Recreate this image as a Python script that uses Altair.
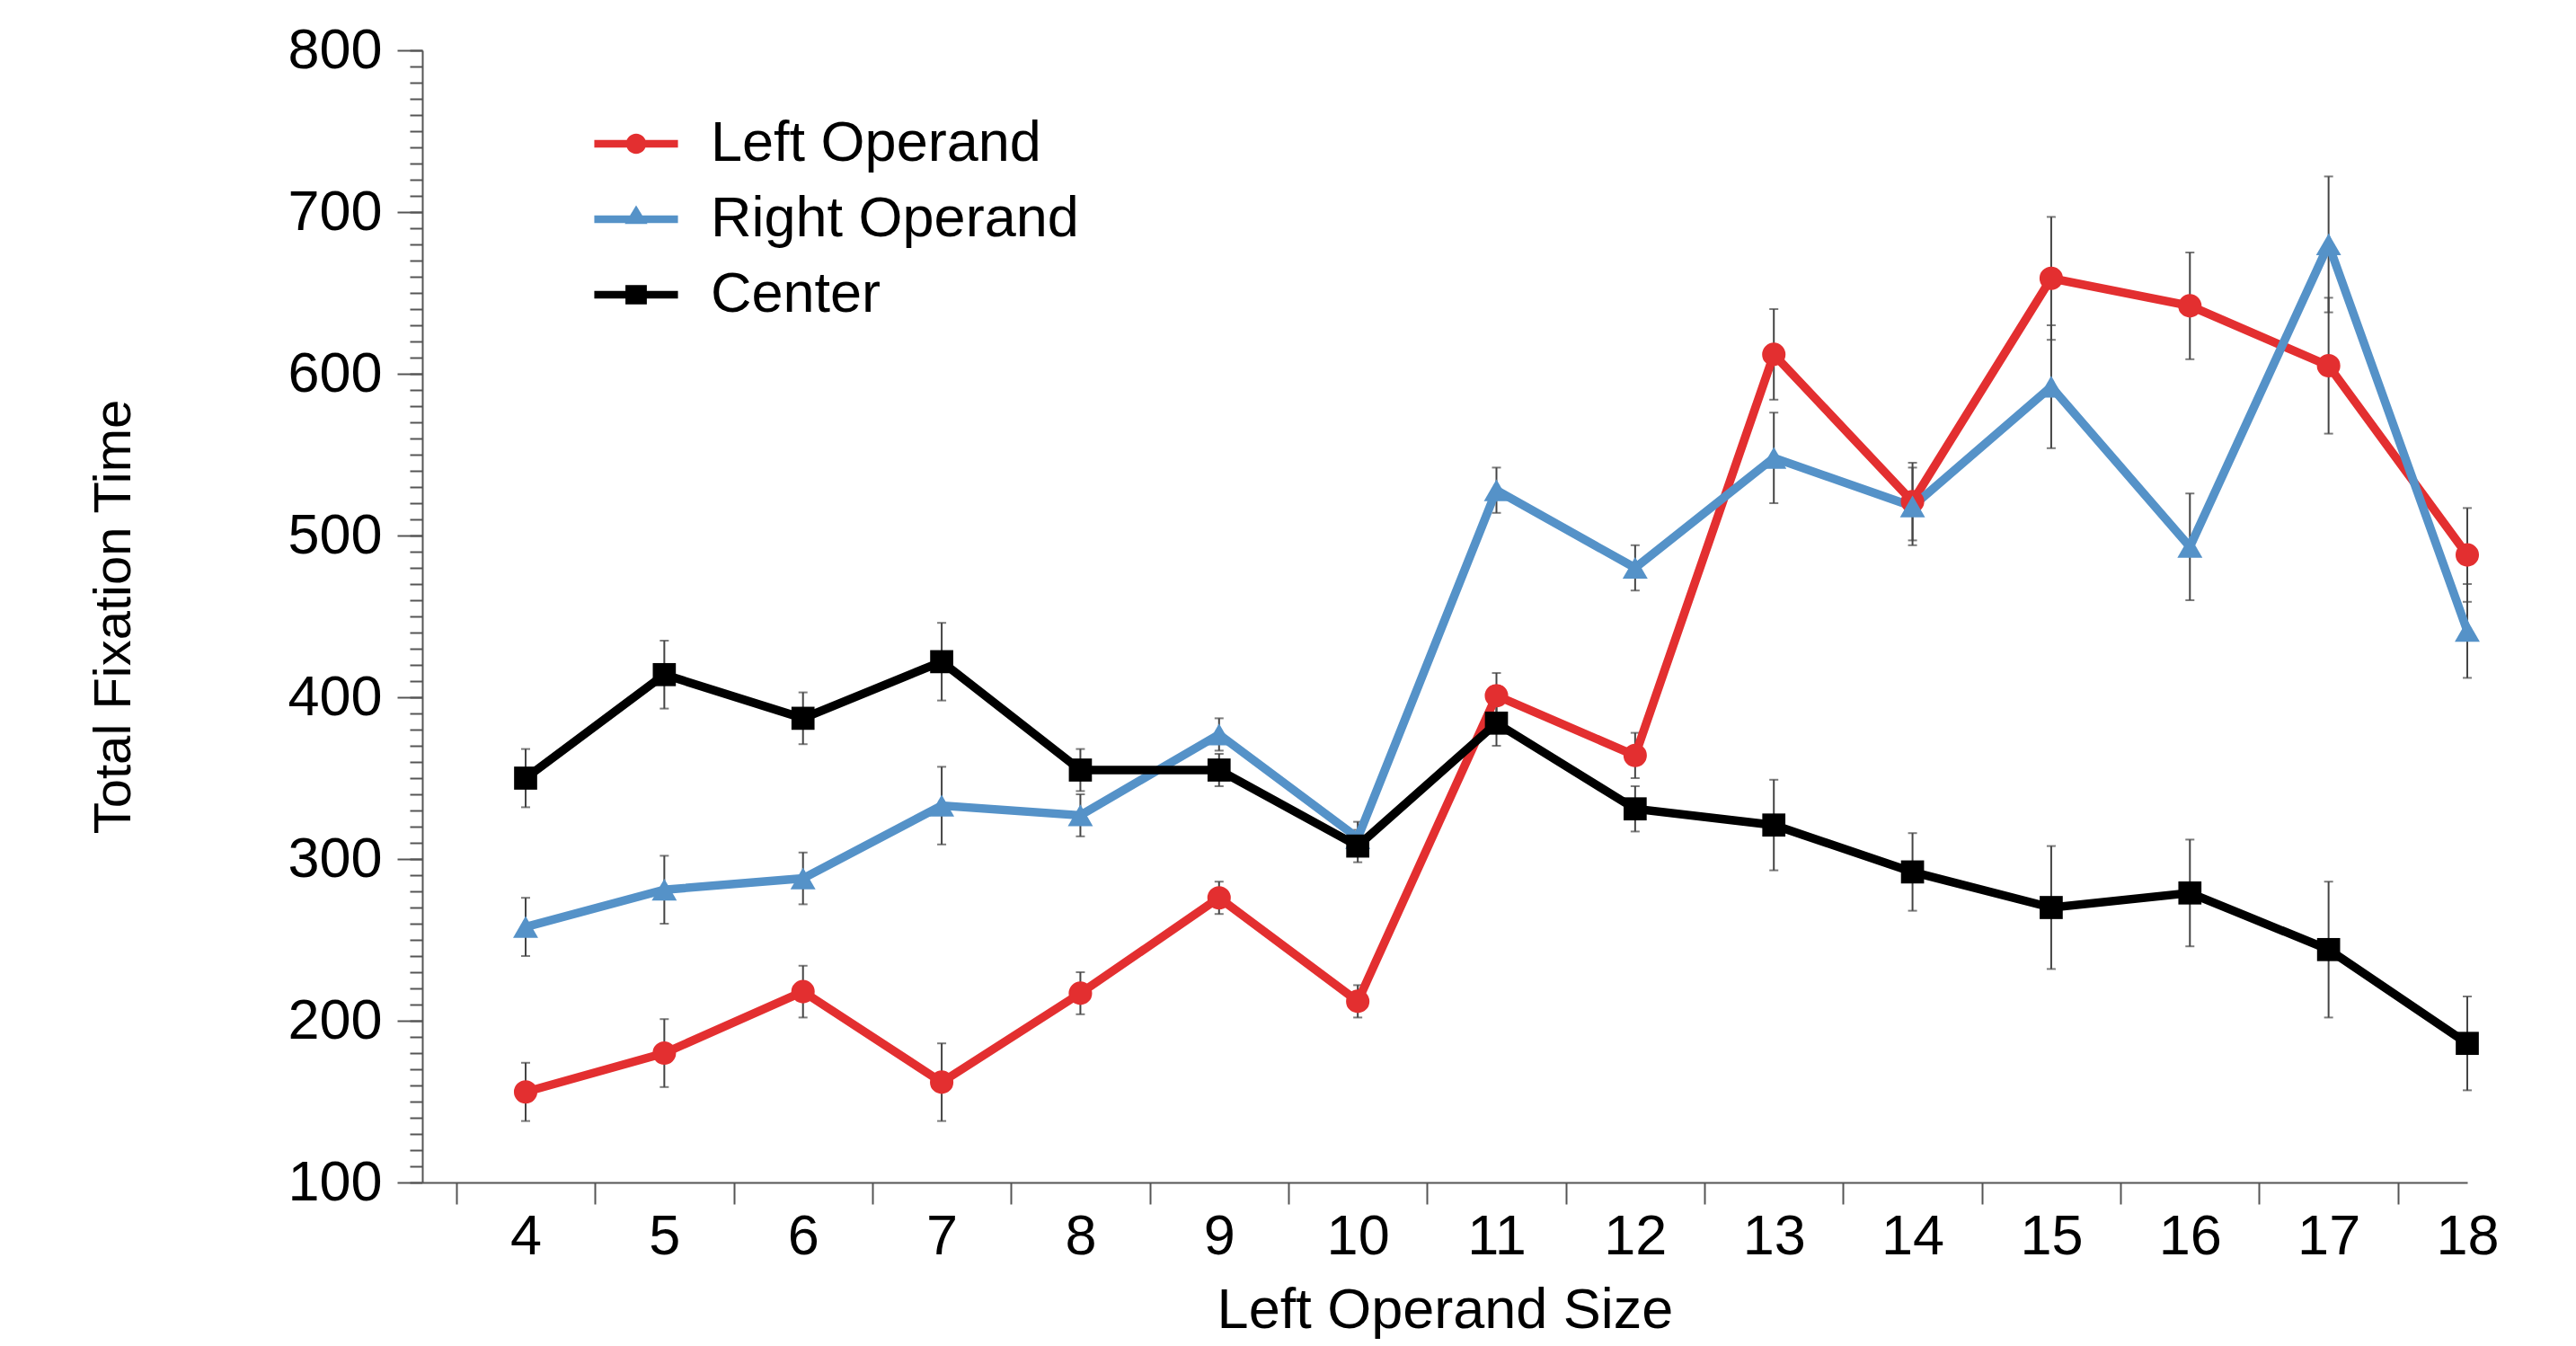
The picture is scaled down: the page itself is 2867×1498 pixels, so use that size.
import altair as alt
import pandas as pd

# ---- data ----
sizes = [4, 5, 6, 7, 8, 9, 10, 11, 12, 13, 14, 15, 16, 17, 18]
left_operand = [156, 180, 218, 162, 217, 276, 212, 401, 364, 612, 521, 659, 642, 605, 488]
right_operand = [258, 281, 288, 333, 327, 377, 313, 528, 480, 548, 518, 592, 493, 680, 441]
center = [350, 414, 387, 422, 355, 355, 308, 384, 331, 321, 292, 270, 279, 244, 186]
error = [18, 21, 16, 24, 13, 10, 10, 14, 14, 28, 24, 38, 33, 42, 29]

series_names = ["Left Operand", "Right Operand", "Center"]
series_colors = ["#E32F30", "#5592C8", "#000000"]
series_shapes = ["circle", "triangle-up", "square"]
series_marker_sizes = [680, 780, 660]

x_label_values = sizes
x_tick_values = [3.5, 4.5, 5.5, 6.5, 7.5, 8.5, 9.5, 10.5, 11.5, 12.5, 13.5, 14.5, 15.5, 16.5, 17.5]
y_major_values = [100, 200, 300, 400, 500, 600, 700, 800]
y_minor_values = list(range(100, 801, 10))

FONT = "Liberation Sans"
FS = 63

rows = []
for name, vals in zip(series_names, [left_operand, right_operand, center]):
    for s, v, e in zip(sizes, vals, error):
        rows.append({"size": s, "value": v, "lo": v - e, "hi": v + e, "series": name})
df = pd.DataFrame(rows)

W, H = 2276, 1260
AXC = "#555555"
ERRC = "#444444"

x_scale = alt.Scale(domain=[3.255, 18], nice=False, zero=False)
y_scale = alt.Scale(domain=[100, 800], nice=False, zero=False)
color_scale = alt.Scale(domain=series_names, range=series_colors)

x_axis_main = alt.Axis(
    values=x_label_values, orient="bottom",
    title="Left Operand Size",
    ticks=False,
    domainColor=AXC, domainWidth=2,
    labelFont=FONT, labelFontSize=FS, labelColor="black", labelPadding=29,
    labelFlush=False, labelOverlap=False,
    titleFont=FONT, titleFontSize=FS, titleFontWeight="normal", titleColor="black",
    titleX=W / 2, titleY=161, titleBaseline="alphabetic", titleAlign="center",
    grid=False,
)
x_axis_ticks = alt.Axis(
    values=x_tick_values, orient="bottom", title=None,
    labels=False, domain=False,
    tickSize=24, tickWidth=2, tickColor=AXC, grid=False,
)

y_axis_main = alt.Axis(
    values=y_major_values, orient="left",
    title="Total Fixation Time",
    tickSize=28, tickWidth=2, tickColor=AXC,
    domainColor=AXC, domainWidth=2,
    labelFont=FONT, labelFontSize=FS, labelColor="black", labelPadding=17,
    labelFlush=False, labelOverlap=False,
    titleFont=FONT, titleFontSize=58, titleFontWeight="normal", titleColor="black",
    titleX=-326, titleY=H / 2, titleAngle=270, titleBaseline="alphabetic", titleAlign="center",
    grid=False,
)
y_axis_minor = alt.Axis(
    values=y_minor_values, orient="left", title=None,
    labels=False, domain=False,
    tickSize=14, tickWidth=2, tickColor=AXC, grid=False,
)

# legend glyphs: a short thick line with the series marker on it
p_left = "M-1.33,-0.12 H1.33 V0.12 H-1.33 Z M-0.32,0 A0.32,0.32 0 1,1 0.32,0 A0.32,0.32 0 1,1 -0.32,0 Z"
p_right = "M-1.33,-0.12 H1.33 V0.12 H-1.33 Z M0,-0.44 L0.36,0.15 L-0.36,0.15 Z"
p_center = "M-1.33,-0.12 H1.33 V0.12 H-1.33 Z M-0.34,-0.31 H0.34 V0.31 H-0.34 Z"
legend_shapes = [p_left, p_right, p_center]

legend = alt.Legend(
    title=None, orient="none", legendX=203, legendY=69,
    symbolSize=4900, labelFont=FONT, labelFontSize=FS, labelColor="black",
    labelOffset=48, rowPadding=17, padding=0, labelLimit=1000,
    symbolStrokeWidth=0, symbolOpacity=1,
)

base = alt.Chart(df)

err_rule = base.mark_rule(color=ERRC, strokeWidth=2).encode(
    x=alt.X("size:Q", scale=x_scale, axis=x_axis_ticks),
    y=alt.Y("lo:Q", scale=y_scale, axis=y_axis_minor),
    y2="hi:Q",
)
err_lo = base.mark_tick(color=ERRC, orient="horizontal", size=10, thickness=2).encode(
    x=alt.X("size:Q", scale=x_scale, axis=None),
    y=alt.Y("lo:Q", scale=y_scale, axis=None),
)
err_hi = base.mark_tick(color=ERRC, orient="horizontal", size=10, thickness=2).encode(
    x=alt.X("size:Q", scale=x_scale, axis=None),
    y=alt.Y("hi:Q", scale=y_scale, axis=None),
)

line_layers = []
for i, (name, col) in enumerate(zip(series_names, series_colors)):
    line_layers.append(
        base.transform_filter(alt.datum.series == name)
        .mark_line(strokeWidth=9.5, color=col)
        .encode(
            x=alt.X("size:Q", scale=x_scale, axis=x_axis_main if i == 0 else None),
            y=alt.Y("value:Q", scale=y_scale, axis=y_axis_main if i == 0 else None),
        )
    )

point_layers = []
for name, col, shp, sz in zip(series_names, series_colors, series_shapes, series_marker_sizes):
    point_layers.append(
        base.transform_filter(alt.datum.series == name)
        .mark_point(filled=True, opacity=1, shape=shp, size=sz, color=col)
        .encode(
            x=alt.X("size:Q", scale=x_scale, axis=None),
            y=alt.Y("value:Q", scale=y_scale, axis=None),
        )
    )

legend_layer = base.transform_filter("datum.size < 0").mark_point(filled=True, opacity=1).encode(
    x=alt.X("size:Q", scale=x_scale, axis=None),
    y=alt.Y("value:Q", scale=y_scale, axis=None),
    color=alt.Color("series:N", scale=color_scale, legend=legend),
    shape=alt.Shape("series:N", scale=alt.Scale(domain=series_names, range=legend_shapes), legend=legend),
)

chart = alt.layer(
    err_rule, err_lo, err_hi, *line_layers, *point_layers, legend_layer
).resolve_axis(
    x="independent", y="independent"
).properties(
    width=W, height=H,
    autosize=alt.AutoSizeParams(type="none"),
    padding={"left": 462, "top": 48, "right": 97, "bottom": 174},
).configure(font=FONT, background="white").configure_view(stroke=None)

chart.save("out.html", embed_options={"renderer": "svg", "actions": False})
